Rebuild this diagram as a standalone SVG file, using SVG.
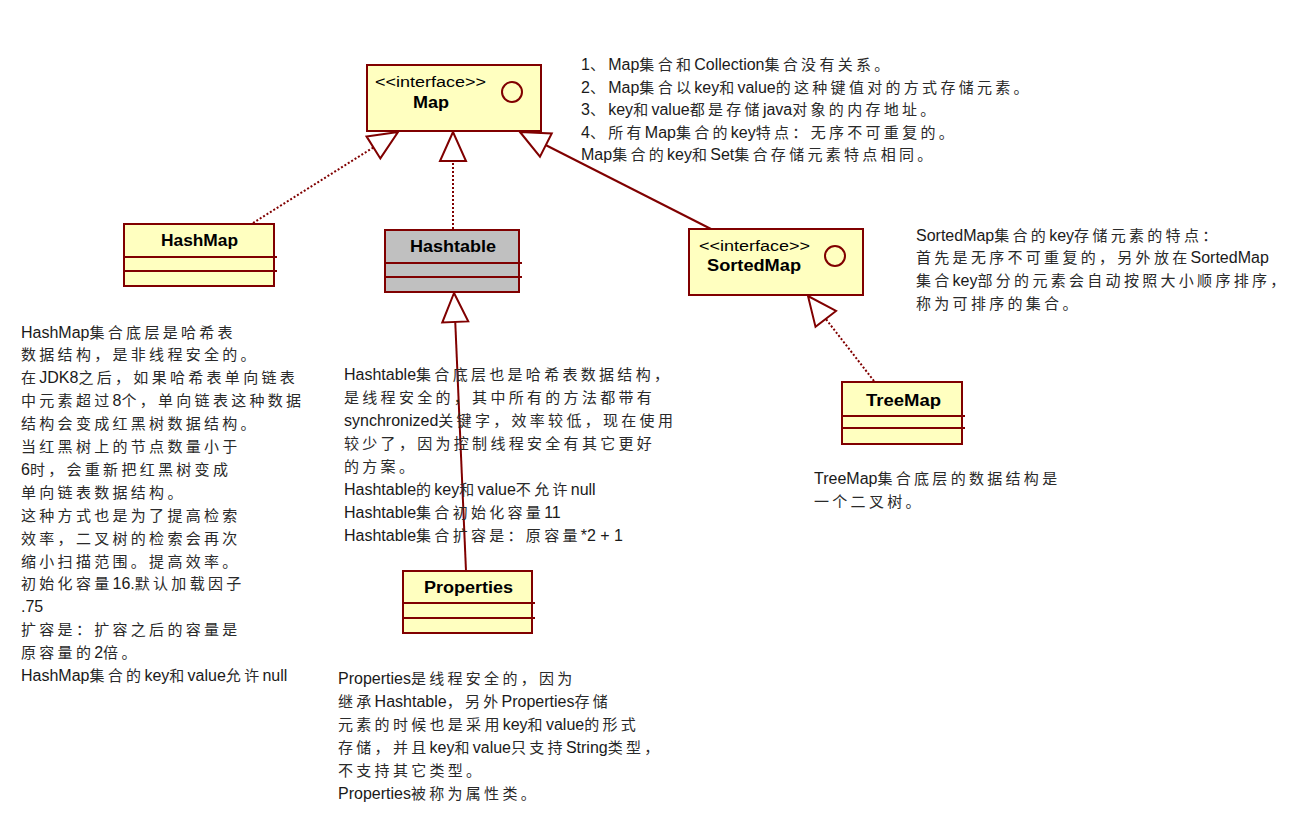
<svg xmlns="http://www.w3.org/2000/svg" width="1306" height="827" viewBox="0 0 1306 827">
<style>
.box{fill:#FFFFC0;stroke:#800000;stroke-width:2}
.gray{fill:#C0C0C0;stroke:#800000;stroke-width:2}
.sep{stroke:#800000;stroke-width:2;fill:none}
.ic{fill:none;stroke:#800000;stroke-width:2}
.t{font-family:"Liberation Sans","Noto Sans CJK SC",sans-serif;font-size:16px;font-weight:bold;fill:#000}
.st{font-family:"Liberation Sans","Noto Sans CJK SC",sans-serif;font-size:14px;fill:#000}
.n{font-family:"Liberation Sans","Noto Sans CJK SC",sans-serif;font-size:16px;fill:#1a1a1a}
.k{font-family:"Noto Sans CJK SC",sans-serif;font-size:15px;letter-spacing:3.3px;fill:#2a2a2a}
.solid{stroke:#800000;stroke-width:2;fill:none;marker-end:url(#tri)}
.dot{stroke:#800000;stroke-width:2;fill:none;stroke-dasharray:2,2;marker-end:url(#tri)}
</style>
<defs>
<marker id="tri" markerUnits="userSpaceOnUse" viewBox="-32 -16 36 32" markerWidth="36" markerHeight="32" refX="0" refY="0" orient="auto" overflow="visible">
<path d="M0,0 L-29,-13 L-29,13 Z" fill="#fff" stroke="#800000" stroke-width="2" stroke-dasharray="none"/>
</marker>
</defs>
<rect width="1306" height="827" fill="#fff"/>

<g id="connectors">
<path class="dot" d="M253,223 L398,132"/>
<path class="dot" d="M453,229 L453,132"/>
<path class="solid" d="M711,229 L520,132"/>
<path class="solid" d="M466,571 L454,293"/>
<path class="dot" d="M874,381 L808,296"/>
</g>

<g id="Map">
<rect class="box" x="367" y="65" width="174" height="66"/>
<circle class="ic" cx="512" cy="92" r="10"/>
<text class="st" x="375" y="87" textLength="111" lengthAdjust="spacingAndGlyphs">&lt;&lt;interface&gt;&gt;</text>
<text class="t" x="413" y="108" textLength="36" lengthAdjust="spacingAndGlyphs">Map</text>
</g>

<g id="HashMap">
<rect class="box" x="124" y="224" width="150" height="62"/>
<path class="sep" d="M124,257 H277 M124,271 H277"/>
<text class="t" x="161" y="246" textLength="77" lengthAdjust="spacingAndGlyphs">HashMap</text>
</g>

<g id="Hashtable">
<rect class="gray" x="385" y="230" width="134" height="62"/>
<path class="sep" d="M385,263 H522 M385,277 H522"/>
<text class="t" x="410" y="252" textLength="86" lengthAdjust="spacingAndGlyphs">Hashtable</text>
</g>

<g id="SortedMap">
<rect class="box" x="689" y="229" width="174" height="66"/>
<circle class="ic" cx="835" cy="256" r="10"/>
<text class="st" x="699" y="251" textLength="111" lengthAdjust="spacingAndGlyphs">&lt;&lt;interface&gt;&gt;</text>
<text class="t" x="707" y="271" textLength="94" lengthAdjust="spacingAndGlyphs">SortedMap</text>
</g>

<g id="TreeMap">
<rect class="box" x="842" y="382" width="120" height="62"/>
<path class="sep" d="M842,416 H965 M842,428 H965"/>
<text class="t" x="866" y="406" textLength="75" lengthAdjust="spacingAndGlyphs">TreeMap</text>
</g>

<g id="Properties">
<rect class="box" x="403" y="571" width="129" height="62"/>
<path class="sep" d="M403,603 H535 M403,618 H535"/>
<text class="t" x="424" y="593" textLength="89" lengthAdjust="spacingAndGlyphs">Properties</text>
</g>

<g id="note-map">
<text class="n" x="581" y="70">1<tspan class="k">、</tspan>Map<tspan class="k">集合和</tspan>Collection<tspan class="k">集合没有关系。</tspan></text>
<text class="n" x="581" y="92.5">2<tspan class="k">、</tspan>Map<tspan class="k">集合以</tspan>key<tspan class="k">和</tspan>value<tspan class="k">的这种键值对的方式存储元素。</tspan></text>
<text class="n" x="581" y="115">3<tspan class="k">、</tspan>key<tspan class="k">和</tspan>value<tspan class="k">都是存储</tspan>java<tspan class="k">对象的内存地址。</tspan></text>
<text class="n" x="581" y="137.5">4<tspan class="k">、所有</tspan>Map<tspan class="k">集合的</tspan>key<tspan class="k">特点：无序不可重复的。</tspan></text>
<text class="n" x="581" y="160">Map<tspan class="k">集合的</tspan>key<tspan class="k">和</tspan>Set<tspan class="k">集合存储元素特点相同。</tspan></text>
</g>

<g id="note-hashmap">
<text class="n" x="21" y="337.5">HashMap<tspan class="k">集合底层是哈希表</tspan></text>
<text class="n" x="21" y="360.4"><tspan class="k">数据结构，是非线程安全的。</tspan></text>
<text class="n" x="21" y="383.3"><tspan class="k">在</tspan>JDK8<tspan class="k">之后，如果哈希表单向链表</tspan></text>
<text class="n" x="21" y="406.2"><tspan class="k">中元素超过</tspan>8<tspan class="k">个，单向链表这种数据</tspan></text>
<text class="n" x="21" y="429.1"><tspan class="k">结构会变成红黑树数据结构。</tspan></text>
<text class="n" x="21" y="452"><tspan class="k">当红黑树上的节点数量小于</tspan></text>
<text class="n" x="21" y="474.9">6<tspan class="k">时，会重新把红黑树变成</tspan></text>
<text class="n" x="21" y="497.8"><tspan class="k">单向链表数据结构。</tspan></text>
<text class="n" x="21" y="520.7"><tspan class="k">这种方式也是为了提高检索</tspan></text>
<text class="n" x="21" y="543.6"><tspan class="k">效率，二叉树的检索会再次</tspan></text>
<text class="n" x="21" y="566.5"><tspan class="k">缩小扫描范围。提高效率。</tspan></text>
<text class="n" x="21" y="589.4"><tspan class="k">初始化容量</tspan>16.<tspan class="k">默认加载因子</tspan></text>
<text class="n" x="21" y="612.3">.75</text>
<text class="n" x="21" y="635.2"><tspan class="k">扩容是：扩容之后的容量是</tspan></text>
<text class="n" x="21" y="658.1"><tspan class="k">原容量的</tspan>2<tspan class="k">倍。</tspan></text>
<text class="n" x="21" y="681">HashMap<tspan class="k">集合的</tspan>key<tspan class="k">和</tspan>value<tspan class="k">允许</tspan>null</text>
</g>

<g id="note-hashtable">
<text class="n" x="344" y="379.5">Hashtable<tspan class="k">集合底层也是哈希表数据结构，</tspan></text>
<text class="n" x="344" y="402.5"><tspan class="k">是线程安全的，其中所有的方法都带有</tspan></text>
<text class="n" x="344" y="425.5">synchronized<tspan class="k">关键字，效率较低，现在使用</tspan></text>
<text class="n" x="344" y="448.5"><tspan class="k">较少了，因为控制线程安全有其它更好</tspan></text>
<text class="n" x="344" y="471.5"><tspan class="k">的方案。</tspan></text>
<text class="n" x="344" y="494.5">Hashtable<tspan class="k">的</tspan>key<tspan class="k">和</tspan>value<tspan class="k">不允许</tspan>null</text>
<text class="n" x="344" y="517.5">Hashtable<tspan class="k">集合初始化容量</tspan>11</text>
<text class="n" x="344" y="540.5">Hashtable<tspan class="k">集合扩容是：原容量</tspan>*2 + 1</text>
</g>

<g id="note-properties">
<text class="n" x="338" y="684">Properties<tspan class="k">是线程安全的，因为</tspan></text>
<text class="n" x="338" y="706.9"><tspan class="k">继承</tspan>Hashtable<tspan class="k">，另外</tspan>Properties<tspan class="k">存储</tspan></text>
<text class="n" x="338" y="729.8"><tspan class="k">元素的时候也是采用</tspan>key<tspan class="k">和</tspan>value<tspan class="k">的形式</tspan></text>
<text class="n" x="338" y="752.7"><tspan class="k">存储，并且</tspan>key<tspan class="k">和</tspan>value<tspan class="k">只支持</tspan>String<tspan class="k">类型，</tspan></text>
<text class="n" x="338" y="775.6"><tspan class="k">不支持其它类型。</tspan></text>
<text class="n" x="338" y="798.5">Properties<tspan class="k">被称为属性类。</tspan></text>
</g>

<g id="note-sortedmap">
<text class="n" x="916" y="240.5">SortedMap<tspan class="k">集合的</tspan>key<tspan class="k">存储元素的特点：</tspan></text>
<text class="n" x="916" y="263.2"><tspan class="k">首先是无序不可重复的，另外放在</tspan>SortedMap</text>
<text class="n" x="916" y="285.9"><tspan class="k">集合</tspan>key<tspan class="k">部分的元素会自动按照大小顺序排序，</tspan></text>
<text class="n" x="916" y="308.6"><tspan class="k">称为可排序的集合。</tspan></text>
</g>

<g id="note-treemap">
<text class="n" x="814" y="483.5">TreeMap<tspan class="k">集合底层的数据结构是</tspan></text>
<text class="n" x="814" y="506.5"><tspan class="k">一个二叉树。</tspan></text>
</g>
</svg>
